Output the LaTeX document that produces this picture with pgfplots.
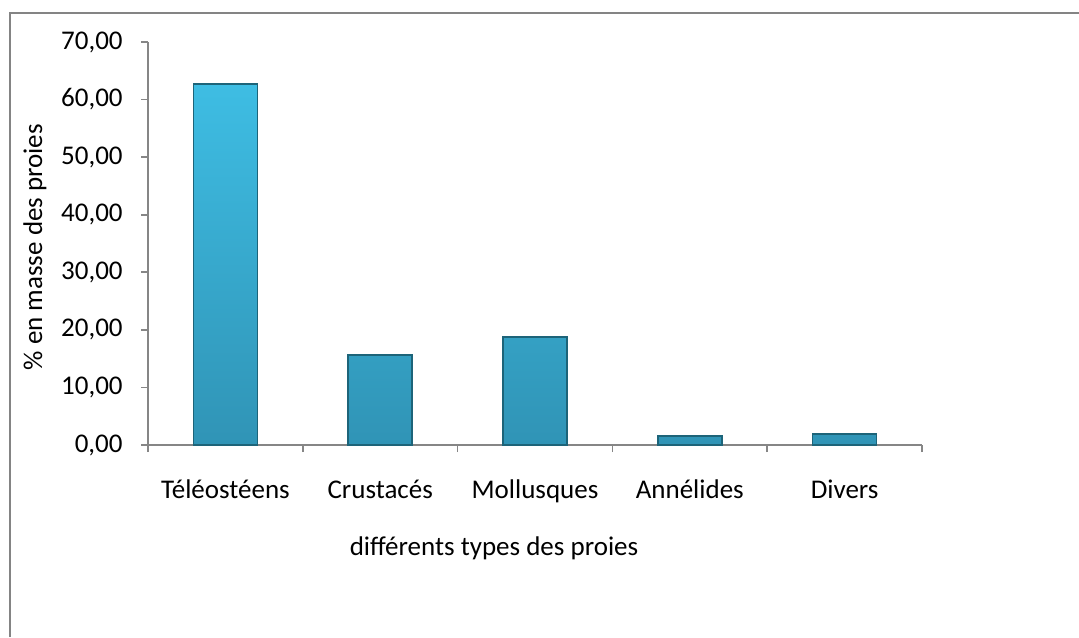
\documentclass[border=0pt]{standalone}
\usepackage{pgfplots}
\pgfplotsset{compat=1.18}
\usepackage{fontspec}
\setmainfont{Carlito}

\definecolor{axisgray}{HTML}{868686}
\definecolor{framegray}{HTML}{848484}
\definecolor{bartop}{HTML}{3EBDE3}
\definecolor{barbot}{HTML}{3094B6}
\definecolor{baredge}{HTML}{1D6479}

\begin{document}
\fontsize{13.5}{15}\selectfont
\begin{tikzpicture}
% page is 1079 x 637 px, 1 px = 0.5pt
\useasboundingbox (0,0) rectangle (539.5pt,318.5pt);
\draw[framegray, line width=1pt] (5.2pt,0) -- (5.2pt,312pt) -- (539.5pt,312pt);
\begin{axis}[
  at={(74pt,96pt)}, anchor=south west,
  scale only axis,
  width=387pt, height=201.5pt,
  xmin=-0.5, xmax=4.5,
  ymin=0, ymax=70,
  ytick={0,10,...,70},
  xtick={-0.5,0.5,...,4.5},
  x tick label as interval,
  xticklabels={Téléostéens,Crustacés,Mollusques,Annélides,Divers},
  axis lines=left,
  axis line style={-, axisgray, line width=0.8pt},
  tick align=outside,
  major tick length=3.5pt,
  tick style={axisgray, line width=0.8pt},
  xticklabel style={text height=9.5pt, text depth=3pt, yshift=-9pt},
  yticklabel style={xshift=-4.5pt},
  /pgf/number format/.cd, fixed, fixed zerofill, precision=2, use comma, assume math mode=true,
  /pgfplots/.cd,
  xlabel={différents types des proies},
  ylabel={\% en masse des proies},
  xlabel style={at={(axis description cs:0.447,-0.256)}, anchor=center},
  ylabel style={at={(axis description cs:-0.146,0.491)}, anchor=center},
  ybar, bar width=32pt,
]
\addplot[top color=bartop, bottom color=barbot, draw=baredge, line width=0.8pt]
  coordinates {(0,62.7) (1,15.6) (2,18.8) (3,1.6) (4,1.9)};
\end{axis}
\end{tikzpicture}
\end{document}
